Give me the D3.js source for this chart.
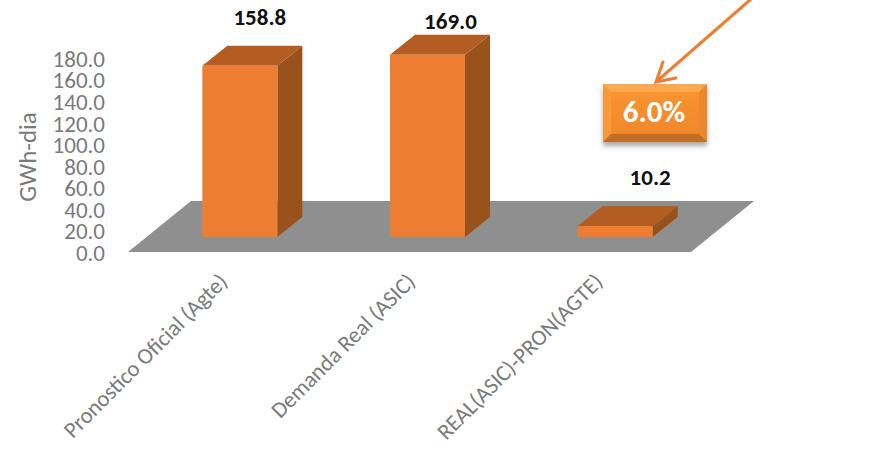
<!DOCTYPE html>
<html><head><meta charset="utf-8">
<script src="https://cdn.jsdelivr.net/npm/d3@7"></script>
<style>html,body{margin:0;padding:0;background:#fff}svg{display:block}</style>
</head><body><div id="c"></div>
<script>
const categories = ["Pronostico Oficial (Agte)", "Demanda Real (ASIC)", "REAL(ASIC)-PRON(AGTE)"];
const values = [158.8, 169.0, 10.2];
const valueLabels = ["158.8", "169.0", "10.2"];
const yTicks = [0,20,40,60,80,100,120,140,160,180];
const yTitle = "GWh-dia";
const calloutText = "6.0%";

const W = 884, H = 449;
const font = "Carlito, 'Open Sans', sans-serif";
const svg = d3.select("#c").append("svg").attr("width", W).attr("height", H);
const defs = svg.append("defs");

const x = d3.scaleBand().domain(categories).range([128, 691]);
const y = d3.scaleLinear().domain([0, 180]).range([252, 58]);

const depthX = 63, depthY = 51;     // floor depth
const barDX = 25, barDY = 20;       // bar depth
const barW = 75;
const baseShiftX = 18, baseShiftY = 15;
const labelGap = [26.5, 11.5, 26.5];
const labelShift = [-5, -2, 10];

// floor
const x0 = x.range()[0], x1 = x.range()[1], yb = y(0);
svg.append("path")
  .attr("d", d3.line()([[x0,yb],[x1,yb],[x1+depthX,yb-depthY],[x0+depthX,yb-depthY]])+"Z")
  .attr("fill", "#8f8f8f");

// bars
const bars = svg.selectAll("g.bar").data(categories).join("g").attr("class","bar");
const L = d3.line();
function geom(c,i){
  const l = x(c) + x.bandwidth()/2 + baseShiftX - barW/2, r = l + barW;
  const t = y(values[i]) , b = y(0) - baseShiftY;
  return {l, r, t: t, b};
}
bars.append("path").attr("fill","#9a521c").attr("d",(c,i)=>{const g=geom(c,i);
  return L([[g.r,g.b],[g.r+barDX,g.b-barDY],[g.r+barDX,g.t-baseShiftY-barDY],[g.r,g.t-baseShiftY]])+"Z";});
bars.append("path").attr("fill","#b35d22").attr("d",(c,i)=>{const g=geom(c,i);
  return L([[g.l,g.t-baseShiftY],[g.r,g.t-baseShiftY],[g.r+barDX,g.t-baseShiftY-barDY],[g.l+barDX,g.t-baseShiftY-barDY]])+"Z";});
bars.append("rect").attr("fill","#ed7d31")
  .attr("x",(c,i)=>geom(c,i).l).attr("width",barW)
  .attr("y",(c,i)=>geom(c,i).t-baseShiftY).attr("height",(c,i)=>geom(c,i).b-geom(c,i).t+baseShiftY);

// value labels
svg.selectAll("text.val").data(categories).join("text").attr("class","val")
  .attr("x",(c,i)=>geom(c,i).l+barW/2+barDX+labelShift[i])
  .attr("y",(c,i)=>geom(c,i).t-baseShiftY-barDY-labelGap[i])
  .attr("text-anchor","middle").attr("dominant-baseline","middle")
  .attr("font-family",font).attr("font-weight","700").attr("font-size",23)
  .attr("fill","#111").text((c,i)=>valueLabels[i]);

// y axis
const ay = svg.append("g").attr("transform","translate(116,1)")
  .call(d3.axisLeft(y).tickValues(yTicks).tickSize(0).tickPadding(11).tickFormat(d3.format(".1f")));
ay.select(".domain").remove();
ay.selectAll("text").attr("font-family",font).attr("font-size",23).attr("fill","#7a7a7a");

svg.append("text").attr("transform","translate(30,157) rotate(-90)")
  .attr("text-anchor","middle").attr("dominant-baseline","middle")
  .attr("font-family",font).attr("font-size",25).attr("fill","#7a7a7a").text(yTitle);

// x axis
const ax = svg.append("g").attr("transform",`translate(0,${yb})`)
  .call(d3.axisBottom(x).tickSize(0).tickPadding(0));
ax.select(".domain").remove();
ax.selectAll("text")
  .attr("font-family",font).attr("font-size",22.6).attr("fill","#7a7a7a")
  .attr("text-anchor","end").attr("dy",0).attr("y",0)
  .attr("transform","translate(7,31) rotate(-45)");

// callout arrow
svg.append("path").attr("d",L([[751,-1],[656,82]])).attr("stroke","#ed7d31").attr("stroke-width",3).attr("fill","none");
svg.append("path").attr("d",L([[663,62],[656,82],[676,78]])).attr("stroke","#ed7d31").attr("stroke-width",3)
  .attr("fill","none").attr("stroke-linecap","round").attr("stroke-linejoin","miter");

// callout box
const f = defs.append("filter").attr("id","sh").attr("x","-20%").attr("y","-20%").attr("width","140%").attr("height","150%");
f.append("feGaussianBlur").attr("stdDeviation",2.5);
const gr = defs.append("linearGradient").attr("id","face").attr("x1",0).attr("y1",0).attr("x2",0).attr("y2",1);
gr.append("stop").attr("offset","0%").attr("stop-color","#fa9632");
gr.append("stop").attr("offset","100%").attr("stop-color","#ef8529");
const bx=603, by=84, bw=104, bh=58, bv=8;
svg.append("rect").attr("x",bx).attr("y",by+4).attr("width",bw).attr("height",bh)
  .attr("fill","#555").attr("opacity",0.5).attr("filter","url(#sh)");
svg.append("rect").attr("x",bx).attr("y",by).attr("width",bw).attr("height",bh).attr("fill","url(#face)");
const P=(pts,col)=>svg.append("path").attr("d",L(pts)+"Z").attr("fill",col);
P([[bx,by],[bx+bw,by],[bx+bw-bv,by+bv],[bx+bv,by+bv]],"#fba84e");
P([[bx,by],[bx+bv,by+bv],[bx+bv,by+bh-bv],[bx,by+bh]],"#f79a3a");
P([[bx+bw,by],[bx+bw-bv,by+bv],[bx+bw-bv,by+bh-bv],[bx+bw,by+bh]],"#e8892e");
P([[bx,by+bh],[bx+bv,by+bh-bv],[bx+bw-bv,by+bh-bv],[bx+bw,by+bh]],"#c07026");
svg.append("text").attr("x",654).attr("y",by+bh/2+1)
  .attr("text-anchor","middle").attr("dominant-baseline","middle")
  .attr("font-family",font).attr("font-weight","700").attr("font-size",31).attr("fill","#fff").text(calloutText);
</script></body></html>
